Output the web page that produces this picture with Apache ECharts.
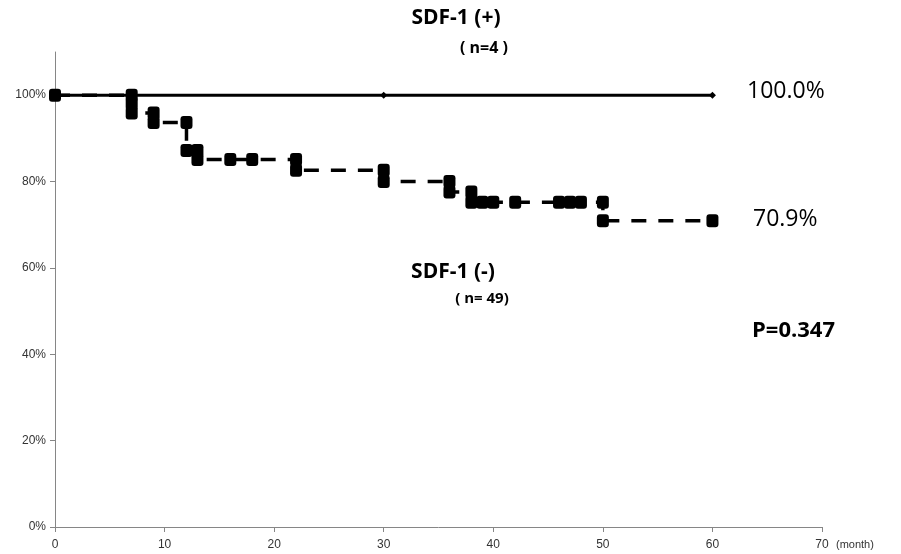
<!DOCTYPE html>
<html>
<head>
<meta charset="utf-8">
<script src="https://cdn.jsdelivr.net/npm/echarts@6/dist/echarts.min.js"></script>
<style>
  html, body { margin: 0; padding: 0; background: #fff; }
  #main { width: 901px; height: 554px; }
</style>
</head>
<body>
<div id="main"></div>
<script>
// SDF-1 (+) group, n=4
var posTimes = [0, 30, 60];
var posSurv = [1, 1, 1];

// SDF-1 (-) group, n=49 (step points of the KM curve, censor marks included)
var negTimes = [0, 7, 7, 7, 9, 9, 12, 12, 13, 13, 16, 18, 22, 22, 30, 30, 36, 36, 38, 38, 39, 40, 42, 46, 47, 48, 50, 50, 60];
var negSurv = [1, 1, 0.98, 0.959, 0.959, 0.937, 0.937, 0.872, 0.872, 0.851, 0.851, 0.851, 0.851, 0.826, 0.826, 0.8, 0.8, 0.776, 0.776, 0.752, 0.752, 0.752, 0.752, 0.752, 0.752, 0.752, 0.752, 0.709, 0.709];

var yTicks = [0, 0.2, 0.4, 0.6, 0.8, 1.0];

(function () {
  var myChart = echarts.init(document.getElementById("main"));

  function pairs(xs, ys) {
    return xs.map(function (x, i) { return [x, ys[i]]; });
  }

  var axisGray = "#868686";
  var labelColor = "#333";

  var option = {
    backgroundColor: "#fff",
    animation: false,
    grid: { left: 55, right: 79, top: 52, bottom: 27 },
    xAxis: {
      type: "value",
      min: 0,
      max: 70,
      interval: 10,
      splitLine: { show: false },
      axisLine: { lineStyle: { color: axisGray, width: 1 } },
      axisTick: { show: true, length: 5, lineStyle: { color: axisGray } },
      axisLabel: { color: labelColor, fontFamily: "Liberation Sans", fontSize: 12, margin: 12 }
    },
    yAxis: {
      type: "value",
      min: 0,
      max: 1.1,
      splitLine: { show: false },
      axisLine: { show: true, lineStyle: { color: axisGray, width: 1 } },
      axisTick: { show: true, length: 5, customValues: yTicks, lineStyle: { color: axisGray } },
      axisLabel: {
        customValues: yTicks,
        color: labelColor,
        fontFamily: "Liberation Sans",
        fontSize: 12,
        margin: 9,
        formatter: function (v) { return Math.round(v * 100) + "%"; }
      }
    },
    series: [
      {
        name: "SDF-1 (+)",
        type: "line",
        data: pairs(posTimes, posSurv),
        symbol: "diamond",
        symbolSize: 7,
        itemStyle: { color: "#000" },
        lineStyle: { color: "#000", width: 3 },
        z: 2
      },
      {
        name: "SDF-1 (-)",
        type: "line",
        data: pairs(negTimes, negSurv),
        symbol: "roundRect",
        symbolSize: [12, 13],
        itemStyle: { color: "#000" },
        lineStyle: { color: "#000", width: 3.5, type: [15, 12] },
        z: 3
      }
    ],
    graphic: [
      { type: "text", x: 456, y: 18, style: { text: "SDF-1 (+)", font: "bold 21px 'Open Sans'", fill: "#000", textAlign: "center", textVerticalAlign: "middle" } },
      { type: "text", x: 484, y: 48, style: { text: "( n=4 )", font: "bold 16px 'Open Sans'", fill: "#000", textAlign: "center", textVerticalAlign: "middle" } },
      { type: "text", x: 453, y: 272, style: { text: "SDF-1 (-)", font: "bold 21px 'Open Sans'", fill: "#000", textAlign: "center", textVerticalAlign: "middle" } },
      { type: "text", x: 482, y: 299, style: { text: "( n= 49)", font: "bold 15px 'Open Sans'", fill: "#000", textAlign: "center", textVerticalAlign: "middle" } },
      { type: "text", x: 747, y: 91, style: { text: "100.0%", font: "23px 'Open Sans'", fill: "#000", textAlign: "left", textVerticalAlign: "middle" } },
      { type: "text", x: 753, y: 219, style: { text: "70.9%", font: "23px 'Open Sans'", fill: "#000", textAlign: "left", textVerticalAlign: "middle" } },
      { type: "text", x: 752, y: 331, style: { text: "P=0.347", font: "bold 22px 'Open Sans'", fill: "#000", textAlign: "left", textVerticalAlign: "middle" } },
      { type: "text", x: 836, y: 545, style: { text: "(month)", font: "11px 'Liberation Sans'", fill: labelColor, textAlign: "left", textVerticalAlign: "middle" } }
    ]
  };

  myChart.setOption(option);
})();
</script>
</body>
</html>
